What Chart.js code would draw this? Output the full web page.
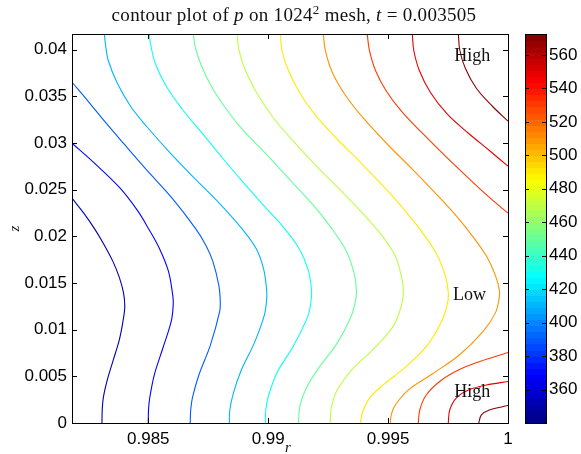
<!DOCTYPE html>
<html>
<head>
<meta charset="utf-8">
<script src="https://cdn.jsdelivr.net/npm/chart.js@4.4.1/dist/chart.umd.min.js"></script>
<style>
  html, body { margin: 0; padding: 0; background: #fff; }
  #wrap { width: 581px; height: 454px; }
</style>
</head>
<body>
<div id="wrap"><canvas id="contour" width="581" height="454"></canvas></div>
<script>
// contour levels of p and the colour limits of the colorbar
const levels = [350, 370, 390, 410, 430, 450, 470, 490, 510, 530, 550, 570];
const cMin = 340, cMax = 572.5;

// axis ranges and tick values
const rMin = 0.98182, rMax = 1;
const zMin = 0, zMax = 0.04167;
const rTicks = [0.985, 0.99, 0.995, 1];
const zTicks = [0, 0.005, 0.01, 0.015, 0.02, 0.025, 0.03, 0.035, 0.04];
const cbTicks = [360, 380, 400, 420, 440, 460, 480, 500, 520, 540, 560];

// contour lines, [r, z] pairs from left/top edge down to z = 0
const p350 = [[0.98182, 0.02408], [0.98231, 0.02248], [0.98277, 0.02077], [0.98317, 0.01905], [0.98352, 0.01734],
  [0.98379, 0.01563], [0.98397, 0.01392], [0.98402, 0.01242], [0.98394, 0.01081], [0.98379, 0.00888],
  [0.98354, 0.00674], [0.98329, 0.0046], [0.98313, 0.00278], [0.98308, 0.00139], [0.98307, 0]];
const p370 = [[0.98182, 0.02997], [0.98271, 0.02794], [0.98379, 0.02526], [0.98454, 0.0228], [0.98500, 0.02087],
  [0.98546, 0.01873], [0.98584, 0.01627], [0.98602, 0.0137], [0.98604, 0.01263], [0.98596, 0.01092],
  [0.98561, 0.00803], [0.98525, 0.00514], [0.98506, 0.00268], [0.98501, 0.00139], [0.98500, 0]];
const p390 = [[0.98182, 0.0365], [0.98246, 0.03457], [0.98321, 0.03222], [0.98396, 0.02997], [0.98494, 0.02708],
  [0.98596, 0.02419], [0.98696, 0.02087], [0.98740, 0.01905], [0.98769, 0.01734], [0.98794, 0.01477],
  [0.98800, 0.01317], [0.98798, 0.01199], [0.98759, 0.00835], [0.98711, 0.00514], [0.98684, 0.00268],
  [0.98677, 0.00139], [0.98675, 0]];
const p410 = [[0.98317, 0.04167], [0.98321, 0.04068], [0.98333, 0.03886], [0.98371, 0.03639], [0.98429, 0.03382],
  [0.98496, 0.03168], [0.98592, 0.0289], [0.98688, 0.02633], [0.98792, 0.02366], [0.98892, 0.02077],
  [0.98951, 0.01863], [0.98980, 0.01659], [0.98992, 0.01467], [0.98994, 0.01338], [0.98984, 0.01156],
  [0.98942, 0.00856], [0.98888, 0.00567], [0.98855, 0.00321], [0.98840, 0.00139], [0.98838, 0]];
const p430 = [[0.98504, 0.04167], [0.98509, 0.04068], [0.98529, 0.03853], [0.98575, 0.03607], [0.98642, 0.03361],
  [0.98721, 0.03115], [0.98800, 0.02869], [0.98888, 0.02601], [0.98980, 0.02334], [0.99067, 0.02087],
  [0.99130, 0.01863], [0.99167, 0.01638], [0.99180, 0.01445], [0.99180, 0.01338], [0.99167, 0.01156],
  [0.99105, 0.00824], [0.99038, 0.00546], [0.99001, 0.00289], [0.98990, 0.00139], [0.98988, 0]];
const p450 = [[0.98688, 0.04167], [0.98696, 0.04025], [0.98721, 0.03832], [0.98763, 0.03607], [0.98817, 0.03393],
  [0.98888, 0.03158], [0.98980, 0.02912], [0.99084, 0.02623], [0.99188, 0.02334], [0.99267, 0.02077],
  [0.99326, 0.01841], [0.99357, 0.01616], [0.99368, 0.01424], [0.99363, 0.01295], [0.99343, 0.01124],
  [0.99288, 0.00856], [0.99213, 0.00599], [0.99159, 0.00375], [0.99132, 0.00182], [0.99126, 0]];
const p470 = [[0.98871, 0.04167], [0.98878, 0.03993], [0.98905, 0.03779], [0.98951, 0.03543], [0.99017, 0.03286],
  [0.99101, 0.03029], [0.99201, 0.02751], [0.99309, 0.02473], [0.99401, 0.02226], [0.99476, 0.02002],
  [0.99530, 0.01788], [0.99557, 0.01552], [0.99564, 0.01402], [0.99555, 0.01252], [0.99522, 0.01038],
  [0.99443, 0.00803], [0.99351, 0.00578], [0.99288, 0.00353], [0.99263, 0.00161], [0.99259, 0]];
const p490 = [[0.99051, 0.04167], [0.99057, 0.03993], [0.99084, 0.03779], [0.99130, 0.03543], [0.99197, 0.03297],
  [0.99280, 0.03061], [0.99376, 0.02815], [0.99484, 0.02526], [0.99576, 0.02259], [0.99651, 0.02012],
  [0.99705, 0.01798], [0.99739, 0.01574], [0.99751, 0.01402], [0.99747, 0.01274], [0.99722, 0.01081],
  [0.99664, 0.00835], [0.99572, 0.00599], [0.99484, 0.00417], [0.99426, 0.00278], [0.99395, 0.00128],
  [0.99384, 0]];
const p510 = [[0.99230, 0.04167], [0.99238, 0.03993], [0.99267, 0.03757], [0.99322, 0.03511], [0.99397, 0.03265],
  [0.99497, 0.02986], [0.99601, 0.02719], [0.99701, 0.02451], [0.99785, 0.02216], [0.99855, 0.01991],
  [0.99910, 0.01788], [0.99947, 0.01584], [0.99964, 0.01424], [0.99962, 0.01317], [0.99947, 0.01177],
  [0.99897, 0.00985], [0.99797, 0.00728], [0.99684, 0.00525], [0.99584, 0.00353], [0.99530, 0.00193],
  [0.99514, 0.00096], [0.99509, 0]];
const p530top = [[0.99413, 0.04167], [0.99422, 0.03993], [0.99447, 0.03779], [0.99493, 0.03554], [0.99559, 0.03329],
  [0.99643, 0.03104], [0.99739, 0.02858], [0.99835, 0.02623], [0.99926, 0.02408], [1, 0.02248]];
const p530low = [[0.99626, 0], [0.99632, 0.00139], [0.99659, 0.003], [0.99718, 0.0045], [0.99793, 0.00567],
  [0.99876, 0.00653], [0.99947, 0.00712], [1, 0.00755]];
const p550top = [[0.99601, 0.04167], [0.99607, 0.03993], [0.99630, 0.03779], [0.99676, 0.03543], [0.99747, 0.03308],
  [0.99835, 0.03104], [0.99926, 0.02911], [1, 0.02751]];
const p550low = [[0.99751, 0], [0.99757, 0.00139], [0.99785, 0.00268], [0.99835, 0.00353], [0.99910, 0.00407],
  [1, 0.00444]];
const p570top = [[0.99793, 0.04167], [0.99799, 0.03993], [0.99822, 0.038], [0.99868, 0.03586], [0.99935, 0.03393],
  [1, 0.03233]];
const p570low = [[0.99878, 0], [0.99889, 0.00086], [0.99922, 0.00139], [1, 0.00187]];

// High / Low markers placed in (r, z)
const markText = ['High', 'Low', 'High'];
const markR = [0.99851, 0.99839, 0.99851];
const markZ = [0.0393, 0.0137, 0.0033];

const segments = [
  [350, p350], [370, p370], [390, p390], [410, p410], [430, p430], [450, p450],
  [470, p470], [490, p490], [510, p510], [530, p530top], [530, p530low],
  [550, p550top], [550, p550low], [570, p570top], [570, p570low]
];

// MATLAB style jet colormap
function jetRGB(t) {
  const c = x => Math.round(255 * Math.max(0, Math.min(1, 1.5 - Math.abs(x))));
  return [c(4 * t - 3), c(4 * t - 2), c(4 * t - 1)];
}
function levelColor(v) {
  const rgb = jetRGB((v - cMin) / (cMax - cMin));
  return `rgb(${rgb[0]},${rgb[1]},${rgb[2]})`;
}

const datasets = segments.map(([lev, pts]) => ({
  label: 'p = ' + lev,
  data: pts.map(([r, z]) => ({ x: r, y: z })),
  showLine: true,
  borderColor: levelColor(lev),
  borderWidth: 1.1,
  pointRadius: 0,
  tension: 0.35,
  fill: false
}));

const SERIF = '"Liberation Serif", "Times New Roman", serif';
const SANS = '"Liberation Sans", Arial, Helvetica, sans-serif';

// box, inward ticks, colorbar, labels and title
const decorations = {
  id: 'decorations',
  afterDraw(chart) {
    const ctx = chart.ctx;
    const a = chart.chartArea;
    const sx = chart.scales.x, sy = chart.scales.y, cb = chart.scales.cb;
    const tick = 5;

    ctx.save();
    ctx.strokeStyle = '#000';
    ctx.lineWidth = 1;
    ctx.beginPath();
    rTicks.forEach(v => {
      const x = Math.round(sx.getPixelForValue(v)) + 0.5;
      ctx.moveTo(x, a.bottom); ctx.lineTo(x, a.bottom - tick);
      ctx.moveTo(x, a.top); ctx.lineTo(x, a.top + tick);
    });
    zTicks.forEach(v => {
      const y = Math.round(sy.getPixelForValue(v)) + 0.5;
      ctx.moveTo(a.left, y); ctx.lineTo(a.left + tick, y);
      ctx.moveTo(a.right, y); ctx.lineTo(a.right - tick, y);
    });
    ctx.stroke();
    ctx.strokeRect(Math.round(a.left) + 0.5, Math.round(a.top) + 0.5,
      Math.round(a.right - a.left), Math.round(a.bottom - a.top));

    // colorbar: 64 bands of jet
    const bx = 525, bw = 21;
    const n = 64;
    for (let i = 0; i < n; i++) {
      const v0 = cMin + (cMax - cMin) * i / n;
      const v1 = cMin + (cMax - cMin) * (i + 1) / n;
      const y0 = cb.getPixelForValue(v0), y1 = cb.getPixelForValue(v1);
      const rgb = jetRGB((i + 0.5) / n);
      ctx.fillStyle = `rgb(${rgb[0]},${rgb[1]},${rgb[2]})`;
      ctx.fillRect(bx, Math.floor(y1), bw, Math.ceil(y0) - Math.floor(y1));
    }
    ctx.beginPath();
    cbTicks.forEach(v => {
      const y = Math.round(cb.getPixelForValue(v)) + 0.5;
      ctx.moveTo(bx + bw, y); ctx.lineTo(bx + bw - 4, y);
      ctx.moveTo(bx, y); ctx.lineTo(bx + 4, y);
    });
    ctx.stroke();
    ctx.strokeRect(bx + 0.5, Math.round(cb.top) + 0.5, bw, Math.round(cb.bottom - cb.top));

    // High / Low annotations
    ctx.fillStyle = '#111';
    ctx.font = '18px ' + SERIF;
    ctx.textAlign = 'center';
    ctx.textBaseline = 'middle';
    markText.forEach((t, i) => {
      ctx.fillText(t, sx.getPixelForValue(markR[i]), sy.getPixelForValue(markZ[i]));
    });

    // axis names
    ctx.font = 'italic 15px ' + SERIF;
    ctx.textBaseline = 'alphabetic';
    ctx.fillText('r', (a.left + a.right) / 2 - 2, 452);
    ctx.save();
    ctx.translate(15, (a.top + a.bottom) / 2);
    ctx.rotate(-Math.PI / 2);
    ctx.textBaseline = 'middle';
    ctx.fillText('z', 0, 0);
    ctx.restore();

    // title with italic symbols and superscript
    const parts = [
      ['contour plot of ', ''], ['p', 'italic '], [' on 1024', ''], ['2', 'sup'],
      [' mesh, ', ''], ['t', 'italic '], [' = 0.003505', '']
    ];
    const fontFor = s => s === 'sup' ? '13px ' + SERIF : s + '19px ' + SERIF;
    ctx.letterSpacing = '0.3px';
    let total = 0;
    parts.forEach(([txt, s]) => { ctx.font = fontFor(s); total += ctx.measureText(txt).width; });
    let x = (a.left + a.right) / 2 + 4 - total / 2;
    ctx.textAlign = 'left';
    ctx.textBaseline = 'alphabetic';
    parts.forEach(([txt, s]) => {
      ctx.font = fontFor(s);
      ctx.fillText(txt, x, s === 'sup' ? 14 : 21);
      x += ctx.measureText(txt).width;
    });
    ctx.restore();
  }
};

const fmt = v => String(Number(v.toFixed(4)));
const tickFont = { family: SANS, size: 17 };

new Chart(document.getElementById('contour'), {
  type: 'scatter',
  data: { datasets },
  options: {
    responsive: false,
    animation: false,
    devicePixelRatio: 1,
    layout: { padding: { top: 34, left: 0, right: 0, bottom: 0 } },
    plugins: { legend: { display: false }, tooltip: { enabled: false } },
    scales: {
      x: {
        type: 'linear', min: rMin, max: rMax,
        afterBuildTicks: s => { s.ticks = rTicks.map(v => ({ value: v })); },
        afterFit: s => { s.height = 31; s.paddingLeft = 0; s.paddingRight = 0; },
        grid: { display: false, drawTicks: false }, border: { display: false },
        ticks: { color: '#000', font: tickFont, padding: 6, maxRotation: 0, callback: fmt }
      },
      y: {
        type: 'linear', min: zMin, max: zMax,
        afterBuildTicks: s => { s.ticks = zTicks.map(v => ({ value: v })); },
        afterFit: s => { s.width = 72; s.paddingTop = 0; s.paddingBottom = 0; },
        grid: { display: false, drawTicks: false }, border: { display: false },
        ticks: { color: '#000', font: tickFont, padding: 5, callback: fmt }
      },
      cb: {
        type: 'linear', position: 'right', min: cMin, max: cMax,
        afterBuildTicks: s => { s.ticks = cbTicks.map(v => ({ value: v })); },
        afterFit: s => { s.width = 73; s.paddingTop = 0; s.paddingBottom = 0; },
        grid: { display: false, drawTicks: false }, border: { display: false },
        ticks: { color: '#000', font: tickFont, padding: 41, callback: fmt }
      }
    }
  },
  plugins: [decorations]
});
</script>
</body>
</html>
